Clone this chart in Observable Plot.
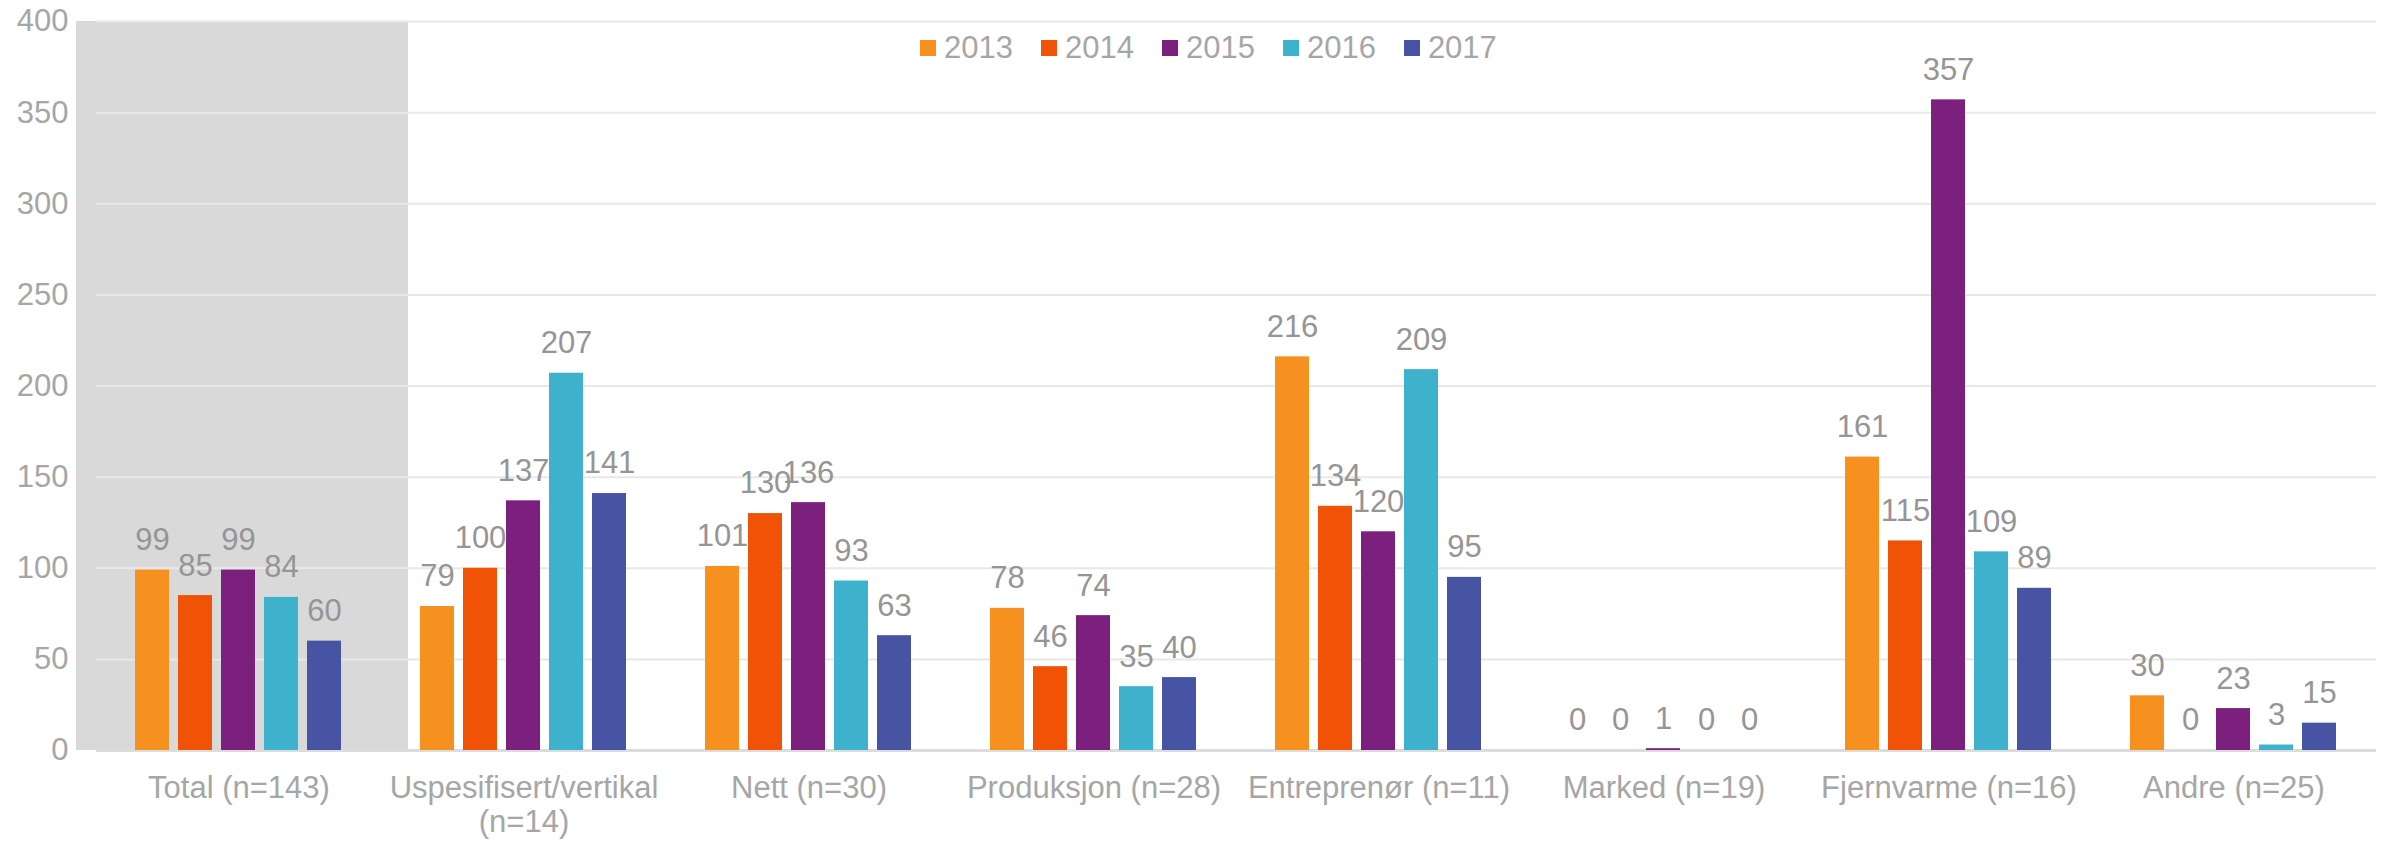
<!DOCTYPE html>
<html>
<head>
<meta charset="utf-8">
<script src="https://cdn.jsdelivr.net/npm/d3@7"></script>
<script src="https://cdn.jsdelivr.net/npm/@observablehq/plot@0.6"></script>
<style>
  html, body { margin: 0; padding: 0; background: #fff; }
  #wrap { position: relative; width: 2385px; height: 843px; font-family: Arial, "Liberation Sans", sans-serif; }
  #legend { position: absolute; left: 920px; top: 30px; font-size: 31px; }
  #legend div, #legend span { font-family: Arial, "Liberation Sans", sans-serif !important; font-size: 31px !important; color: #a6a6a6 !important; }
  #legend div { min-height: 33px !important; }
  #legend span { margin-right: 28px !important; }
  #legend span > svg { margin-right: 8px !important; }
</style>
</head>
<body>
<div id="wrap"><div id="chart"></div><div id="legend"></div></div>
<script>
const categories = ["Total (n=143)", "Uspesifisert/vertikal (n=14)", "Nett (n=30)", "Produksjon (n=28)", "Entreprenør (n=11)", "Marked (n=19)", "Fjernvarme (n=16)", "Andre (n=25)"];
const years = ["2013", "2014", "2015", "2016", "2017"];
const v2013 = [99, 79, 101, 78, 216, 0, 161, 30];
const v2014 = [85, 100, 130, 46, 134, 0, 115, 0];
const v2015 = [99, 137, 136, 74, 120, 1, 357, 23];
const v2016 = [84, 207, 93, 35, 209, 0, 109, 3];
const v2017 = [60, 141, 63, 40, 95, 0, 89, 15];
const colors = ["#F6901E", "#F05306", "#7B207C", "#3EB1CD", "#4753A3"];
const yTicks = [0, 50, 100, 150, 200, 250, 300, 350, 400];
const highlighted = ["Total (n=143)"];

const series = [v2013, v2014, v2015, v2016, v2017];
const rows = [];
categories.forEach((c, i) => years.forEach((y, j) => rows.push({cat: c, year: y, value: series[j][i]})));

const font = 'Arial, "Liberation Sans", sans-serif';
const gray = "#a6a6a6";

const chart = Plot.plot({
  width: 2385,
  height: 843,
  marginLeft: 94,
  marginRight: 7,
  marginTop: 21,
  marginBottom: 93,
  style: {fontFamily: font, background: "white", overflow: "visible"},
  fx: {domain: categories, padding: 0},
  x: {domain: years, paddingInner: 0.2, paddingOuter: 0.863, axis: null},
  y: {domain: [0, 400]},
  color: {domain: years, range: colors},
  marks: [
    Plot.rect(highlighted.map(c => ({cat: c})), {fx: "cat", y1: () => 0, y2: () => 400, fill: "#d9d9d9", insetLeft: -20, insetRight: -27}),
    Plot.gridY(yTicks, {stroke: "#e8e8e8", strokeOpacity: 1, strokeWidth: 2}),
    Plot.ruleY([0], {stroke: "#dcdcdc", strokeWidth: 3}),
    Plot.barY(rows, {fx: "cat", x: "year", y: "value", fill: "year"}),
    Plot.text(rows, {fx: "cat", x: "year", y: "value", text: d => String(d.value), dy: -30, fontSize: 31, fill: "#959595", lineAnchor: "middle"}),
    Plot.axisY({ticks: yTicks, tickSize: 0, tickPadding: 28, fontSize: 31, fill: gray, label: null}),
    Plot.axisFx({anchor: "bottom", tickSize: 0, tickPadding: 23, fontSize: 31, fill: gray, label: null, lineHeight: 1.1,
      tickFormat: d => d.length > 22 ? d.replace(" (", "\n(") : d})
  ]
});
document.getElementById("chart").appendChild(chart);

const legend = Plot.legend({color: {domain: years, range: colors}, swatchSize: 16,
  style: {fontSize: "31px", color: gray, fontFamily: font}});
document.getElementById("legend").appendChild(legend);
</script>
</body>
</html>
